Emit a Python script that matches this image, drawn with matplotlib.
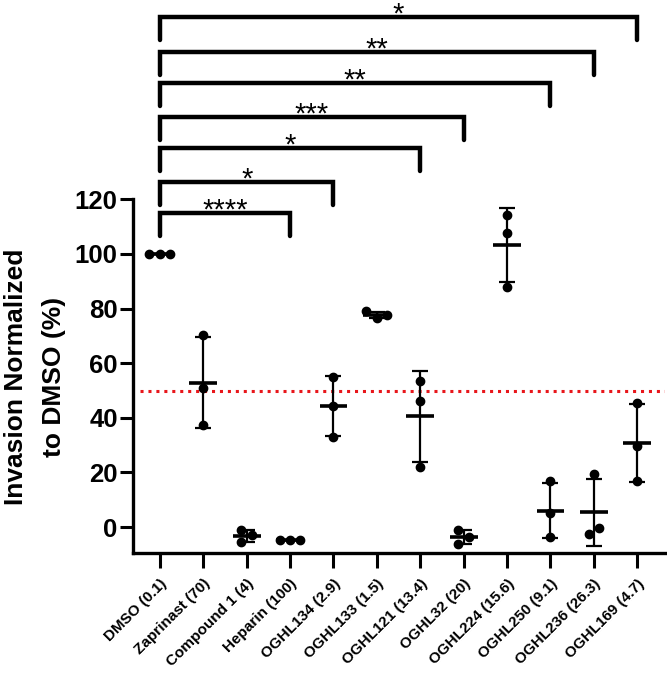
import numpy as np
import matplotlib
matplotlib.use("Agg")
import matplotlib.pyplot as plt

plt.rcParams['font.family'] = ['Liberation Sans', 'DejaVu Sans']

categories = ["DMSO (0.1)", "Zaprinast (70)", "Compound 1 (4)", "Heparin (100)",
              "OGHL134 (2.9)", "OGHL133 (1.5)", "OGHL121 (13.4)", "OGHL32 (20)",
              "OGHL224 (15.6)", "OGHL250 (9.1)", "OGHL236 (26.3)", "OGHL169 (4.7)"]

dmso = [100.0, 100.0, 100.0]
zaprinast = [70.5, 50.8, 37.4]
compound1 = [-1.1, -2.9, -5.4]
heparin = [-4.8, -4.8, -4.8]
oghl134 = [55.1, 44.3, 33.1]
oghl133 = [79.0, 77.5, 76.5]
oghl121 = [53.6, 46.3, 21.9]
oghl32 = [-1.1, -3.5, -6.3]
oghl224 = [114.3, 107.6, 88.0]
oghl250 = [16.7, 5.0, -3.6]
oghl236 = [19.4, -0.5, -2.7]
oghl169 = [45.5, 29.7, 17.0]

groups = [dmso, zaprinast, compound1, heparin, oghl134, oghl133, oghl121,
          oghl32, oghl224, oghl250, oghl236, oghl169]

# significance comparisons vs DMSO (index of compared group, label)
comp_targets = [3, 4, 6, 7, 9, 10, 11]
comp_labels = ["****", "*", "*", "***", "**", "**", "*"]

threshold_line = 50

ytick_vals = [0, 20, 40, 60, 80, 100, 120]

# ---------------- figure ----------------
fig = plt.figure(figsize=(6.67, 6.73), dpi=100)
ax = fig.add_axes([133/667, (673-553)/673, 532/667, 553/673])
ylo, yhi = -9.5, 193.0
ax.set_ylim(ylo, yhi)
ax.set_xlim(-0.62, 11.64)

d = 0.24      # horizontal spacing of overlapping points
thr = 2.9     # overlap threshold in data units


def swarm_offsets(vals):
    vals = np.asarray(vals, float)
    n = len(vals)
    order = np.argsort(vals)
    offs = np.zeros(n)
    comp = list(range(n))
    for i in range(n):
        for j in range(n):
            if abs(vals[i] - vals[j]) < thr:
                a, b = comp[i], comp[j]
                if a != b:
                    comp = [a if c == b else c for c in comp]
    placed = []
    for i in order:
        for s in [0, 1, -1, 2, -2]:
            ok = True
            for (j, sj) in placed:
                if sj == s and abs(vals[i] - vals[j]) < thr:
                    ok = False
                    break
            if ok:
                offs[i] = s
                placed.append((i, s))
                break
    for c in set(comp):
        idx = [k for k in range(n) if comp[k] == c]
        if len(idx) > 1:
            sub = offs[idx]
            offs[idx] = sub - (sub.min() + sub.max()) / 2
        else:
            offs[idx] = 0
    return offs * d


for i, vals in enumerate(groups):
    vals = np.asarray(vals, float)
    m = vals.mean()
    sd = vals.std(ddof=1)
    xs = i + swarm_offsets(vals)
    ax.errorbar([i], [m], yerr=[sd], fmt='none', ecolor='black', elinewidth=1.6,
                capsize=5.5, capthick=1.6, zorder=3)
    ax.plot([i - 0.32, i + 0.32], [m, m], color='black', lw=2.6, zorder=3,
            solid_capstyle='butt')
    ax.plot(xs, vals, 'o', color='black', markersize=6, zorder=4)

# red dotted threshold
ax.plot([-0.45, 11.64], [threshold_line, threshold_line], color='#e8161b', lw=2.2,
        linestyle=(0, (1, 1.6)), zorder=2)

# significance brackets
bracket_tops = [115.0, 126.4, 138.8, 150.2, 162.6, 174.0, 186.8]
drop = 8.4
for top, tgt, lab in zip(bracket_tops, comp_targets, comp_labels):
    ax.plot([0, 0, tgt, tgt], [top - drop, top, top, top - drop], color='black',
            lw=3.2, solid_capstyle='round', solid_joinstyle='miter', clip_on=False, zorder=5)
    ax.text(tgt / 2, top - 1.9, lab, ha='center', va='baseline', fontsize=21,
            color='black', clip_on=False)

# axes styling
for s in ['top', 'right']:
    ax.spines[s].set_visible(False)
ax.spines['left'].set_bounds(ylo, 120)
ax.spines['left'].set_linewidth(2.4)
ax.spines['bottom'].set_linewidth(2.4)
ax.set_yticks(ytick_vals)
ax.set_yticklabels([str(v) for v in ytick_vals], fontsize=18.5, fontweight='bold')
ax.tick_params(axis='y', length=9.5, width=2.2, pad=1.5)
ax.set_xticks(range(len(categories)))
ax.set_xticklabels(categories, rotation=45, ha='right', rotation_mode='anchor',
                   fontsize=11, fontweight='bold')
ax.tick_params(axis='x', length=11, width=2.2, pad=6)
ax.set_ylabel("Invasion Normalized\nto DMSO (%)", fontsize=19, fontweight='bold',
              linespacing=1.75)
ax.yaxis.set_label_coords(-0.125, (55 - ylo) / (yhi - ylo))

fig.savefig("out.png", dpi=100)
